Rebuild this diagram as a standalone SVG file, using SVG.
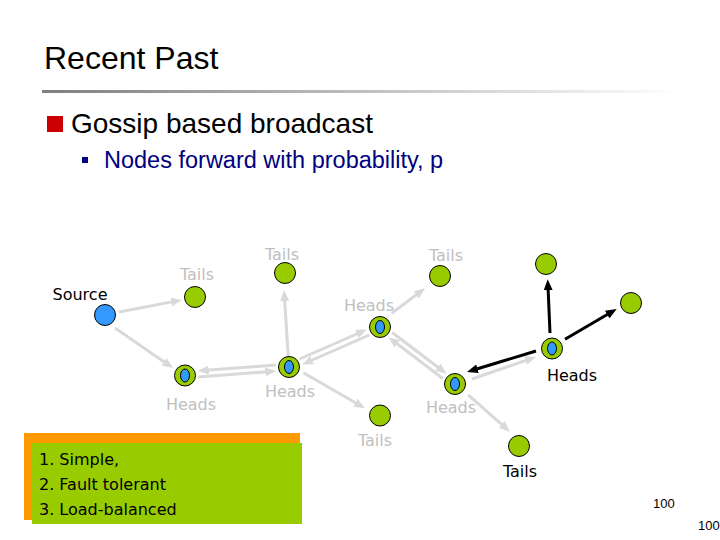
<svg xmlns="http://www.w3.org/2000/svg" width="720" height="540" viewBox="0 0 720 540">
<style>
.lbl{font-family:"DejaVu Sans","Liberation Sans",sans-serif;font-size:16px;text-anchor:middle}
.g{fill:#C0C0C0}
.k{fill:#000}
.gl{stroke:#D9D9D9;stroke-width:3;fill:none}
.bl{stroke:#000;stroke-width:3;fill:none}
.leaf{fill:#99CC00;stroke:#000;stroke-width:1}
.blue{fill:#3399FF;stroke:#000;stroke-width:1}
.box{font-family:"DejaVu Sans","Liberation Sans",sans-serif;font-size:16px;fill:#000}
.sans{font-family:"Liberation Sans",Arial,sans-serif}
</style>
<defs>
<linearGradient id="rule" x1="0" y1="0" x2="1" y2="0">
<stop offset="0" stop-color="#7F7F7F"/>
<stop offset="1" stop-color="#FFFFFF"/>
</linearGradient>
<marker id="ag" viewBox="0 0 11 9" markerWidth="11" markerHeight="9" refX="6" refY="4.5" orient="auto" markerUnits="userSpaceOnUse">
<path d="M0,0 L11,4.5 L0,9 z" fill="#D9D9D9"/>
</marker>
<marker id="ak" viewBox="0 0 11 9" markerWidth="11" markerHeight="9" refX="6" refY="4.5" orient="auto" markerUnits="userSpaceOnUse">
<path d="M0,0 L11,4.5 L0,9 z" fill="#000"/>
</marker>
</defs>
<rect width="720" height="540" fill="#FFFFFF"/>
<g id="header">
<text x="44" y="69" class="sans" font-size="32" fill="#000">Recent Past</text>
<rect x="42" y="90" width="640" height="3" fill="url(#rule)"/>
<rect x="47" y="116" width="16" height="16" fill="#CC0000"/>
<text x="71" y="133" class="sans" font-size="28" fill="#000">Gossip based broadcast</text>
<rect x="82" y="157" width="6" height="6" fill="#000080"/>
<text x="104" y="168" class="sans" font-size="23.5" fill="#000080">Nodes forward with probability, p</text>
</g>
<g id="connectors">
<line class="gl" x1="119" y1="312" x2="177.1" y2="300.9" marker-end="url(#ag)"/>
<line class="gl" x1="115" y1="328" x2="168.9" y2="365.2" marker-end="url(#ag)"/>
<line class="gl" x1="198.2" y1="377" x2="271.3" y2="371.4" marker-end="url(#ag)"/>
<line class="gl" x1="275.8" y1="365" x2="202.7" y2="370.6" marker-end="url(#ag)"/>
<line class="gl" x1="288.3" y1="356.7" x2="284.3" y2="295" marker-end="url(#ag)"/>
<line class="gl" x1="299.7" y1="359" x2="362.3" y2="331.5" marker-end="url(#ag)"/>
<line class="gl" x1="369.3" y1="335" x2="306.7" y2="362.5" marker-end="url(#ag)"/>
<line class="gl" x1="391.7" y1="313.3" x2="421" y2="291.3" marker-end="url(#ag)"/>
<line class="gl" x1="392.2" y1="332.5" x2="442.5" y2="370.7" marker-end="url(#ag)"/>
<line class="gl" x1="442.8" y1="378.5" x2="392.5" y2="340.3" marker-end="url(#ag)"/>
<line class="gl" x1="303.3" y1="372.7" x2="360.7" y2="405.8" marker-end="url(#ag)"/>
<line class="gl" x1="472" y1="379" x2="531.3" y2="358.6" marker-end="url(#ag)"/>
<line class="gl" x1="468.3" y1="395" x2="506.2" y2="428.4" marker-end="url(#ag)"/>
<line class="bl" x1="536" y1="351" x2="471.8" y2="370.5" marker-end="url(#ak)"/>
<line class="bl" x1="550" y1="333" x2="547.9" y2="284.3" marker-end="url(#ak)"/>
<line class="bl" x1="565" y1="339.3" x2="612.4" y2="311.5" marker-end="url(#ak)"/>
</g>
<g id="source"><circle class="blue" cx="105" cy="315" r="10.5"/><text class="lbl k" x="80" y="300">Source</text></g>
<g id="tails1"><circle class="leaf" cx="195" cy="297" r="10.5"/><text class="lbl g" x="197" y="280">Tails</text></g>
<g id="tails2"><circle class="leaf" cx="285" cy="273" r="10.5"/><text class="lbl g" x="282" y="260">Tails</text></g>
<g id="tails3"><circle class="leaf" cx="440" cy="276" r="10.5"/><text class="lbl g" x="446" y="261">Tails</text></g>
<g id="headsA"><circle class="leaf" cx="185" cy="375.5" r="10.5"/><ellipse class="blue" cx="185" cy="375.5" rx="4.5" ry="6.5"/><text class="lbl g" x="191" y="410">Heads</text></g>
<g id="headsB"><circle class="leaf" cx="289" cy="367" r="10.5"/><ellipse class="blue" cx="289" cy="367" rx="4.5" ry="6.5"/><text class="lbl g" x="290" y="397">Heads</text></g>
<g id="headsC"><circle class="leaf" cx="380" cy="327" r="10.5"/><ellipse class="blue" cx="380" cy="327" rx="4.5" ry="6.5"/><text class="lbl g" x="369" y="311">Heads</text></g>
<g id="headsE"><circle class="leaf" cx="455" cy="384" r="10.5"/><ellipse class="blue" cx="455" cy="384" rx="4.5" ry="6.5"/><text class="lbl g" x="451" y="413">Heads</text></g>
<g id="headsD"><circle class="leaf" cx="552" cy="348.5" r="10.5"/><ellipse class="blue" cx="552" cy="348.5" rx="4.5" ry="6.5"/><text class="lbl k" x="572" y="381">Heads</text></g>
<g id="leaf1"><circle class="leaf" cx="546" cy="264" r="10.5"/></g>
<g id="leaf2"><circle class="leaf" cx="631" cy="303" r="10.5"/></g>
<g id="tails4"><circle class="leaf" cx="380" cy="415.5" r="10.5"/><text class="lbl g" x="375" y="446">Tails</text></g>
<g id="tails5"><circle class="leaf" cx="519" cy="446" r="10.5"/><text class="lbl k" x="520" y="477">Tails</text></g>
<g id="callout">
<rect x="24" y="433" width="276" height="87" fill="#FF9900"/>
<rect x="32" y="443" width="270" height="81" fill="#99CC00"/>
<text class="box" x="39" y="465">1. Simple,</text>
<text class="box" x="39" y="490">2. Fault tolerant</text>
<text class="box" x="39" y="515">3. Load-balanced</text>
</g>
<g id="pagenums">
<text x="653" y="508" class="sans" font-size="13" fill="#000">100</text>
<text x="698" y="530" class="sans" font-size="13" fill="#000">100</text>
</g>
</svg>
